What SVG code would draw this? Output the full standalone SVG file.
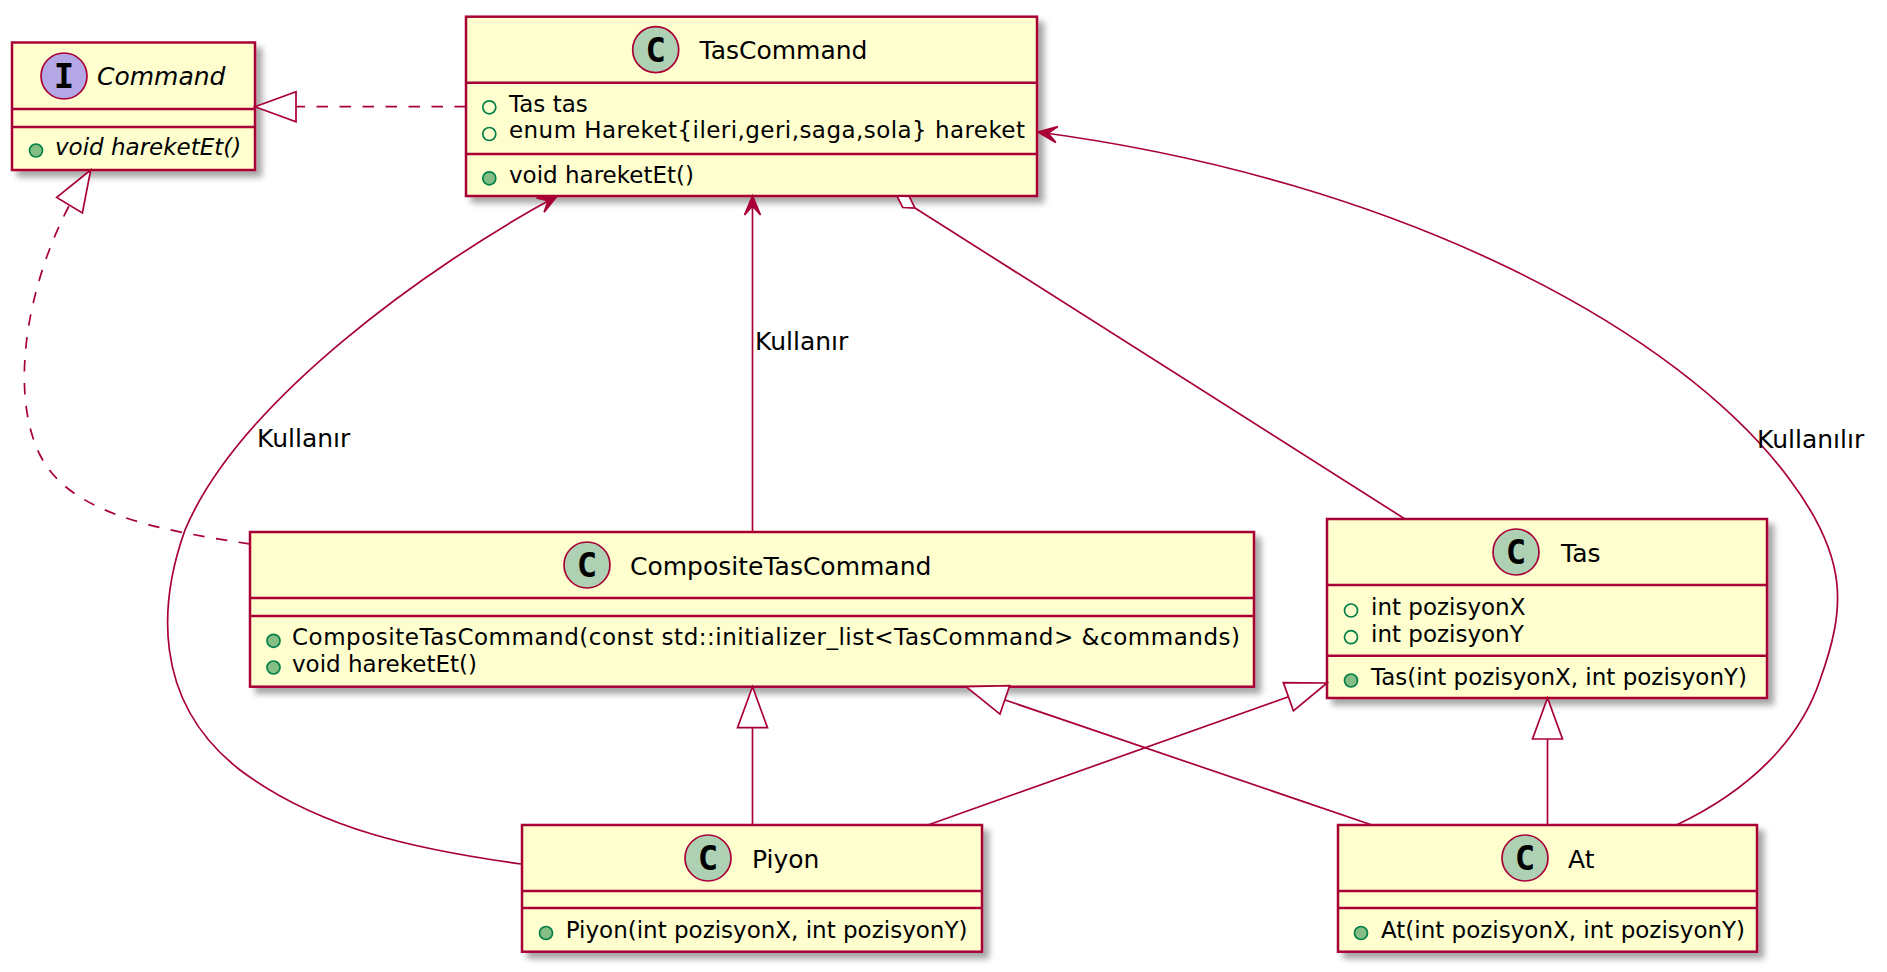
<svg xmlns="http://www.w3.org/2000/svg" width="1887" height="972" viewBox="0 0 1887 972">
<style>
.box{fill:#FEFECE;stroke:#A80036;stroke-width:2.5;filter:url(#sh)}
.dv{stroke:#A80036;stroke-width:2.5}
.hc{fill:#ADD1B2;stroke:#A80036;stroke-width:1.7}
.ic{fill:#B4A7E5;stroke:#A80036;stroke-width:1.7}
.gl{font-family:"DejaVu Sans Mono",monospace;font-weight:bold;font-size:34px;text-anchor:middle;fill:#000}
.nm{font-family:"DejaVu Sans",sans-serif;font-size:25px;fill:#000}
.mm{font-family:"DejaVu Sans",sans-serif;font-size:23px;fill:#000}
.it{font-style:italic}
.fld{fill:none;stroke:#038048;stroke-width:1.7}
.mth{fill:#84BE84;stroke:#038048;stroke-width:1.7}
.ln{fill:none;stroke:#A80036;stroke-width:1.7}
.ds{stroke-dasharray:11.5 11.5}
.lb{font-family:"DejaVu Sans",sans-serif;font-size:25px;fill:#000}
</style>
<defs>
<filter id="sh" x="-5%" y="-5%" width="115%" height="125%">
<feGaussianBlur in="SourceAlpha" stdDeviation="3"/>
<feOffset dx="6" dy="6" result="o"/>
<feComponentTransfer><feFuncA type="linear" slope="0.35"/></feComponentTransfer>
<feMerge><feMergeNode/><feMergeNode in="SourceGraphic"/></feMerge>
</filter>
<marker id="tri" markerUnits="userSpaceOnUse" markerWidth="50" markerHeight="40" viewBox="-45 -20 50 40" refX="0" refY="0" orient="auto" overflow="visible">
<path d="M0,0 L-41,-15 L-41,15 Z" fill="#FFFFFF" stroke="#A80036" stroke-width="1.7" stroke-dasharray="none"/>
</marker>
<marker id="arr" markerUnits="userSpaceOnUse" markerWidth="30" markerHeight="30" viewBox="-25 -15 30 30" refX="0" refY="0" orient="auto" overflow="visible">
<path d="M0,0 L-19,-8 L-10,0 L-19,8 Z" fill="#A80036" stroke="#A80036" stroke-width="1.7" stroke-dasharray="none"/>
</marker>
</defs>
<rect x="0" y="0" width="1887" height="972" fill="#FFFFFF"/>

<g id="Command">
<rect class="box" x="12" y="42.5" width="243" height="127.5"/>
<line class="dv" x1="12" y1="109" x2="255" y2="109"/>
<line class="dv" x1="12" y1="127" x2="255" y2="127"/>
<circle class="ic" cx="64" cy="76" r="23"/>
<text class="gl" x="64" y="88">I</text>
<text class="nm it" x="97" y="85">Command</text>
<circle class="mth" cx="36" cy="150.5" r="6.5"/>
<text class="mm it" x="55" y="155">void hareketEt()</text>
</g>

<g id="TasCommand">
<rect class="box" x="466" y="16.7" width="571" height="179.3"/>
<line class="dv" x1="466" y1="82.7" x2="1037" y2="82.7"/>
<line class="dv" x1="466" y1="154" x2="1037" y2="154"/>
<circle class="hc" cx="655.7" cy="49.7" r="23"/>
<text class="gl" x="655.7" y="62">C</text>
<text class="nm" x="699.5" y="59.3">TasCommand</text>
<circle class="fld" cx="489.3" cy="107.3" r="6.5"/>
<text class="mm" x="509" y="111.7">Tas tas</text>
<circle class="fld" cx="489.3" cy="134" r="6.5"/>
<text class="mm" x="509" y="138.3" textLength="516" lengthAdjust="spacing">enum Hareket{ileri,geri,saga,sola} hareket</text>
<circle class="mth" cx="489.3" cy="178.3" r="6.5"/>
<text class="mm" x="509" y="182.7">void hareketEt()</text>
</g>

<g id="CompositeTasCommand">
<rect class="box" x="250" y="532" width="1004" height="154.7"/>
<line class="dv" x1="250" y1="598" x2="1254" y2="598"/>
<line class="dv" x1="250" y1="616" x2="1254" y2="616"/>
<circle class="hc" cx="587" cy="565" r="23"/>
<text class="gl" x="587" y="577.3">C</text>
<text class="nm" x="630" y="574.5">CompositeTasCommand</text>
<circle class="mth" cx="273.5" cy="640.8" r="6.5"/>
<text class="mm" x="292" y="645.3" textLength="948" lengthAdjust="spacing">CompositeTasCommand(const std::initializer_list&lt;TasCommand&gt; &amp;commands)</text>
<circle class="mth" cx="273.5" cy="667.5" r="6.5"/>
<text class="mm" x="292" y="672">void hareketEt()</text>
</g>

<g id="Tas">
<rect class="box" x="1327" y="519" width="440" height="179"/>
<line class="dv" x1="1327" y1="585" x2="1767" y2="585"/>
<line class="dv" x1="1327" y1="655.7" x2="1767" y2="655.7"/>
<circle class="hc" cx="1516" cy="552" r="23"/>
<text class="gl" x="1516" y="564.3">C</text>
<text class="nm" x="1561" y="561.5">Tas</text>
<circle class="fld" cx="1351" cy="610.5" r="6.5"/>
<text class="mm" x="1371" y="615">int pozisyonX</text>
<circle class="fld" cx="1351" cy="637.2" r="6.5"/>
<text class="mm" x="1371" y="641.7">int pozisyonY</text>
<circle class="mth" cx="1351" cy="680.5" r="6.5"/>
<text class="mm" x="1371" y="685">Tas(int pozisyonX, int pozisyonY)</text>
</g>

<g id="Piyon">
<rect class="box" x="522" y="825" width="460" height="126.7"/>
<line class="dv" x1="522" y1="891" x2="982" y2="891"/>
<line class="dv" x1="522" y1="908" x2="982" y2="908"/>
<circle class="hc" cx="708" cy="858" r="23"/>
<text class="gl" x="708" y="870.3">C</text>
<text class="nm" x="752" y="867.5">Piyon</text>
<circle class="mth" cx="546" cy="933" r="6.5"/>
<text class="mm" x="565.7" y="937.5">Piyon(int pozisyonX, int pozisyonY)</text>
</g>

<g id="At">
<rect class="box" x="1338" y="825" width="419" height="126.7"/>
<line class="dv" x1="1338" y1="891" x2="1757" y2="891"/>
<line class="dv" x1="1338" y1="908" x2="1757" y2="908"/>
<circle class="hc" cx="1525" cy="858" r="23"/>
<text class="gl" x="1525" y="870.3">C</text>
<text class="nm" x="1568" y="867.5">At</text>
<circle class="mth" cx="1361" cy="933" r="6.5"/>
<text class="mm" x="1381" y="937.5">At(int pozisyonX, int pozisyonY)</text>
</g>

<g id="connectors">
<path class="ln ds" d="M 466,106.7 L 255,106.7" marker-end="url(#tri)"/>
<path class="ln ds" d="M 250,544 C 160,530 70,515 40,455 C 10,395 25,290 69,206 L 90.7,170" marker-end="url(#tri)"/>
<path class="ln" d="M 521,864 C 420,850 320,830 240,770 C 150,700 160,600 185,530 C 240,400 430,265 557,196" marker-end="url(#arr)"/>
<text class="lb" x="257" y="447">Kullanır</text>
<path class="ln" d="M 752.5,532 L 752.5,196" marker-end="url(#arr)"/>
<text class="lb" x="755" y="350">Kullanır</text>
<path class="ln" d="M 915,208 L 1405,519"/>
<polygon points="897,196 902.7,207.5 915,208 909.3,196.5" fill="#FFFFFF" stroke="#A80036" stroke-width="1.7"/>
<path class="ln" d="M 752.5,825 L 752.5,686.7" marker-end="url(#tri)"/>
<path class="ln" d="M 1372,825 L 966,686.7" marker-end="url(#tri)"/>
<path class="ln" d="M 928,825 L 1327,683" marker-end="url(#tri)"/>
<path class="ln" d="M 1547.5,825 L 1547.5,698" marker-end="url(#tri)"/>
<path class="ln" d="M 1676.5,825 C 1750,790 1800,740 1820,680 C 1845,610 1850,560 1790,480 C 1680,330 1400,180 1038,132" marker-end="url(#arr)"/>
<text class="lb" x="1757" y="448">Kullanılır</text>
</g>
</svg>
